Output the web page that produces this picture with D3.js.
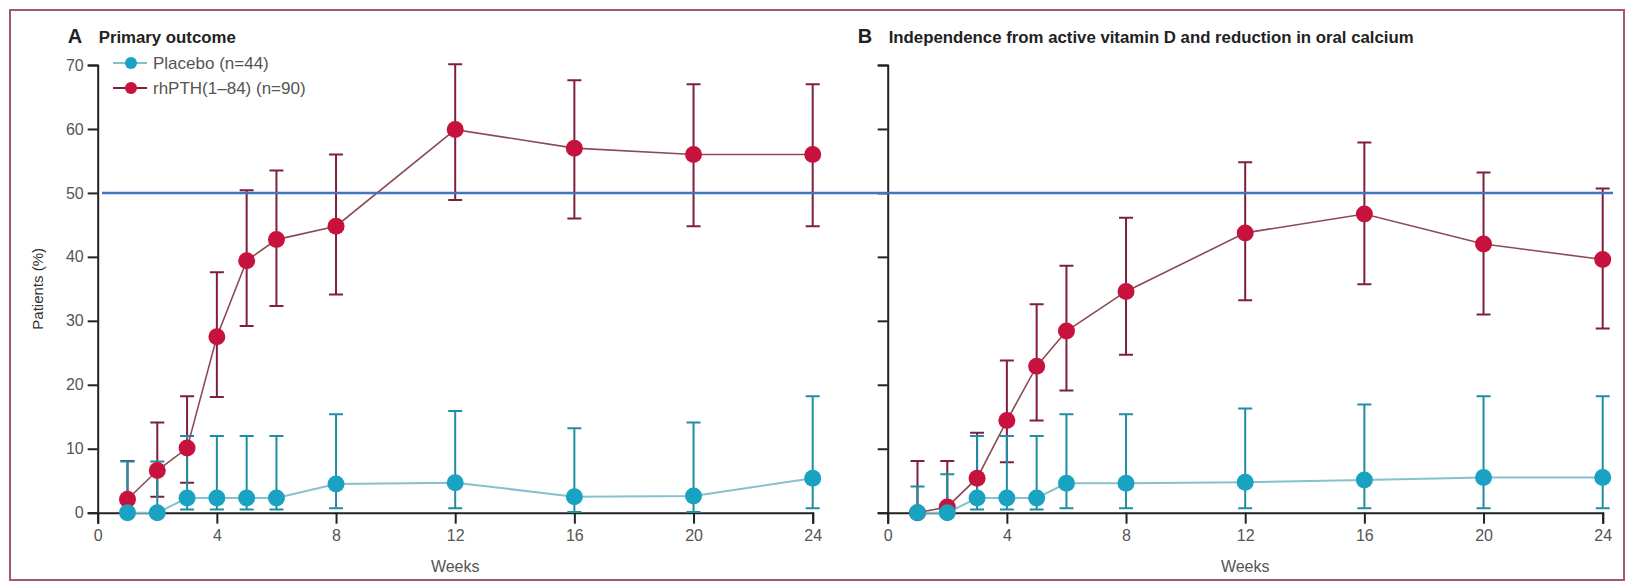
<!DOCTYPE html>
<html>
<head>
<meta charset="utf-8">
<script src="https://cdn.jsdelivr.net/npm/d3@7"></script>
<style>
  body { margin: 0; background: #fff; }
  text { font-family: "Liberation Sans", Arial, sans-serif; }
</style>
</head>
<body>
<div id="chart"></div>
<script>
// weeks at which patients were assessed
var weeks = [1, 2, 3, 4, 5, 6, 8, 12, 16, 20, 24];
var xTicks = [0, 4, 8, 12, 16, 20, 24];
var yTicks = [0, 10, 20, 30, 40, 50, 60, 70];

// panel A: primary outcome (% and 95% CI)
var placeboA   = [0, 0, 2.3, 2.3, 2.3, 2.3, 4.5, 4.7, 2.5, 2.6, 5.4];
var placeboALo = [0, 0, 0.5, 0.5, 0.5, 0.5, 0.7, 0.7, 0.1, 0.1, 0.7];
var placeboAHi = [8.0, 8.0, 12.0, 12.0, 12.0, 12.0, 15.4, 15.9, 13.2, 14.1, 18.2];
var rhptA   = [2.1, 6.6, 10.1, 27.5, 39.4, 42.7, 44.8, 59.9, 57.0, 56.0, 56.0];
var rhptALo = [0.3, 2.5, 4.7, 18.1, 29.2, 32.3, 34.1, 48.9, 46.0, 44.8, 44.8];
var rhptAHi = [8.1, 14.1, 18.2, 37.6, 50.4, 53.5, 56.0, 70.1, 67.6, 67.0, 67.0];

// panel B: independence from active vitamin D and reduction in oral calcium
var placeboB   = [0, 0, 2.3, 2.3, 2.3, 4.6, 4.6, 4.75, 5.1, 5.5, 5.5];
var placeboBLo = [0, 0, 0.5, 0.5, 0.5, 0.7, 0.7, 0.7, 0.7, 0.7, 0.7];
var placeboBHi = [4.1, 6.0, 12.0, 12.0, 12.0, 15.4, 15.4, 16.3, 16.9, 18.2, 18.2];
var rhptB   = [0, 0.9, 5.4, 14.4, 22.9, 28.4, 34.6, 43.75, 46.7, 42.0, 39.6];
var rhptBLo = [0, 0, 1.8, 7.9, 14.4, 19.1, 24.7, 33.2, 35.7, 31.0, 28.8];
var rhptBHi = [8.1, 8.1, 12.5, 23.8, 32.6, 38.6, 46.1, 54.8, 57.9, 53.2, 50.7];

var legendLabels = ["Placebo (n=44)", "rhPTH(1\u201384) (n=90)"];

var width = 1627, height = 583;
var placeboDot = "#1aa2c2", placeboBar = "#1e8ea3", placeboLine = "#86c1cf";
var rhptDot = "#c8123e", rhptBar = "#7e1f40", rhptLine = "#8a4b57";

var svg = d3.select("#chart").append("svg")
  .attr("width", width)
  .attr("height", height);

// outer frame
svg.append("rect")
  .attr("x", 10).attr("y", 10)
  .attr("width", 1614).attr("height", 570)
  .attr("fill", "none")
  .attr("stroke", "#a4557a")
  .attr("stroke-width", 2);

var y = d3.scaleLinear().domain([0, 70]).range([512.7, 65]);

function zip(vals, lo, hi) {
  return weeks.map(function(w, i) { return {w: w, v: vals[i], lo: lo[i], hi: hi[i]}; });
}

function drawPanel(x0, letter, title, showLabels, placebo, rhpt) {
  var x = d3.scaleLinear().domain([0, 24]).range([x0, x0 + 715]);
  var g = svg.append("g");

  // axes
  var yAxis = d3.axisLeft(y).tickValues(yTicks).tickSize(10).tickPadding(4)
    .tickFormat(showLabels ? d3.format("d") : function() { return ""; });
  var gy = g.append("g").attr("transform", "translate(" + x0 + ",0)").call(yAxis);
  var xAxis = d3.axisBottom(x).tickValues(xTicks).tickSize(11).tickPadding(6);
  var gx = g.append("g").attr("transform", "translate(0," + y(0) + ")").call(xAxis);
  [gx, gy].forEach(function(a) {
    a.select(".domain").attr("stroke", "#222").attr("stroke-width", 2);
    a.selectAll(".tick line").attr("stroke", "#222").attr("stroke-width", 2);
    a.selectAll(".tick text").attr("fill", "#555").style("font-size", "16px");
  });

  g.append("text")
    .attr("x", x(12)).attr("y", 572)
    .attr("text-anchor", "middle")
    .attr("fill", "#555")
    .style("font-size", "16px")
    .text("Weeks");

  // panel letter and title
  g.append("text")
    .attr("x", x0 - 30).attr("y", 43)
    .attr("fill", "#222")
    .style("font-size", "20px").style("font-weight", "bold")
    .text(letter);
  g.append("text")
    .attr("x", x0 + 1).attr("y", 43)
    .attr("fill", "#222")
    .style("font-size", "16.8px").style("font-weight", "bold")
    .text(title);

  // error bars, then lines, then the dots
  [[rhpt, rhptBar], [placebo, placeboBar]].forEach(function(s) {
    var bars = g.append("g").attr("stroke", s[1]).attr("stroke-width", 2);
    bars.selectAll(".bar").data(s[0]).enter().append("path")
      .attr("fill", "none")
      .attr("d", function(d) {
        var cx = x(d.w);
        return "M" + cx + "," + y(d.lo) + "V" + y(d.hi)
          + "M" + (cx - 7) + "," + y(d.hi) + "H" + (cx + 7)
          + "M" + (cx - 7) + "," + y(d.lo) + "H" + (cx + 7);
      });
  });

  var line = d3.line().x(function(d) { return x(d.w); }).y(function(d) { return y(d.v); });
  g.append("path").datum(rhpt).attr("d", line)
    .attr("fill", "none").attr("stroke", rhptLine).attr("stroke-width", 1.6);
  g.append("path").datum(placebo).attr("d", line)
    .attr("fill", "none").attr("stroke", placeboLine).attr("stroke-width", 2);

  g.selectAll(".rdot").data(rhpt).enter().append("circle")
    .attr("cx", function(d) { return x(d.w); })
    .attr("cy", function(d) { return y(d.v); })
    .attr("r", 8.5).attr("fill", rhptDot);
  g.selectAll(".pdot").data(placebo).enter().append("circle")
    .attr("cx", function(d) { return x(d.w); })
    .attr("cy", function(d) { return y(d.v); })
    .attr("r", 8.5).attr("fill", placeboDot);
}

drawPanel(97.7, "A", "Primary outcome", true,
  zip(placeboA, placeboALo, placeboAHi), zip(rhptA, rhptALo, rhptAHi));
drawPanel(887.7, "B", "Independence from active vitamin D and reduction in oral calcium", false,
  zip(placeboB, placeboBLo, placeboBHi), zip(rhptB, rhptBLo, rhptBHi));

// y axis title (panel A only)
svg.append("text")
  .attr("transform", "translate(43," + y(35) + ") rotate(-90)")
  .attr("text-anchor", "middle")
  .attr("fill", "#333")
  .style("font-size", "15px")
  .text("Patients (%)");

// legend
var legend = svg.append("g");
[[placeboDot, placeboLine], [rhptDot, rhptBar]].forEach(function(c, i) {
  var ly = 63 + i * 25;
  legend.append("line").attr("x1", 113).attr("x2", 147).attr("y1", ly).attr("y2", ly)
    .attr("stroke", c[1]).attr("stroke-width", 2);
  legend.append("circle").attr("cx", 131).attr("cy", ly).attr("r", 6).attr("fill", c[0]);
  legend.append("text").attr("x", 153).attr("y", ly + 6)
    .attr("fill", "#555").style("font-size", "17px")
    .text(legendLabels[i]);
});

// 50% reference line across both panels
svg.append("line")
  .attr("x1", 102).attr("x2", 1613)
  .attr("y1", y(50)).attr("y2", y(50))
  .attr("stroke", "#4274c0").attr("stroke-width", 2.5);
</script>
</body>
</html>
